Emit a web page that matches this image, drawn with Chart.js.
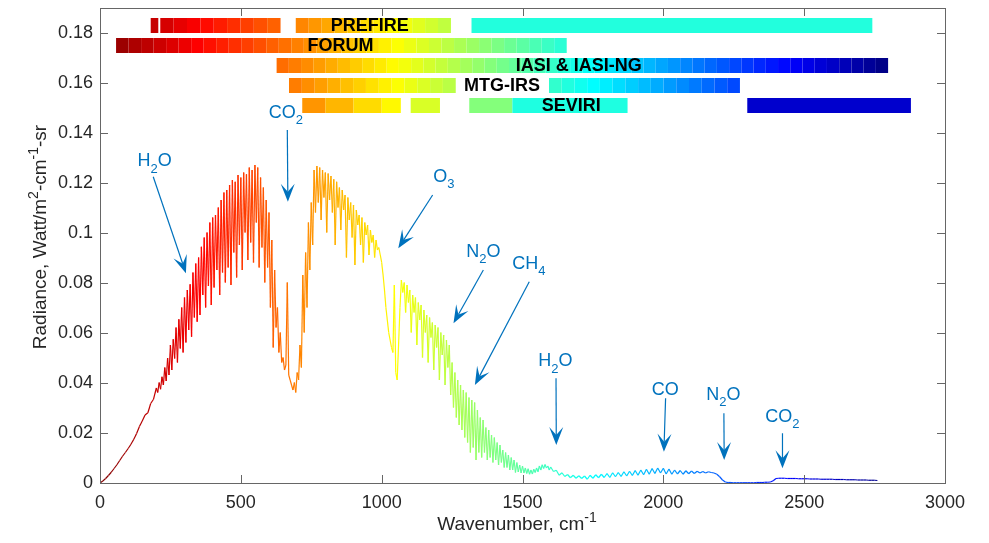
<!DOCTYPE html>
<html lang="en">
<head>
	<meta charset="utf-8">
	<title>Radiance spectrum</title>
	<style>
body {
	margin: 0;
	background: #fff;
}
#chartWrapper {
	width: 989px;
	height: 543px;
}
	</style>
</head>
<body>

<div id="chartWrapper">
  <canvas id="myChart" width="989" height="543"></canvas>
</div>

<script src="https://cdn.jsdelivr.net/npm/chart.js"></script>
<script>
// spectrum, in three pieces with their own sampling
// 0 - 190 cm-1, every 10 cm-1
const lowStart = 0, lowStep = 10;
const radianceLow = [
	0, 0.0008, 0.0018, 0.003, 0.0043, 0.0058, 0.0073, 0.009, 0.0107, 0.0122,
	0.0138, 0.0155, 0.0175, 0.0198, 0.0226, 0.0248, 0.0272, 0.0281, 0.0318, 0.0335
];
// 200 - 1595 cm-1, every 5 cm-1
const bandStart = 200, bandStep = 5;
const radianceBand = [
	0.0380, 0.0362, 0.0402, 0.0375, 0.0425, 0.0392, 0.0462, 0.0408, 0.0500, 0.0432,
	0.0552, 0.0452, 0.0575, 0.0498, 0.0622, 0.0482, 0.0655, 0.0538, 0.0702, 0.0522,
	0.0742, 0.0562, 0.0772, 0.0612, 0.0795, 0.0585, 0.0842, 0.0662, 0.0878, 0.0645,
	0.0902, 0.0672, 0.0945, 0.0752, 0.0982, 0.0702, 0.1002, 0.0788, 0.1042, 0.0712,
	0.1062, 0.0782, 0.1072, 0.0852, 0.1102, 0.0752, 0.1132, 0.0842, 0.1162, 0.0802,
	0.1172, 0.0862, 0.1192, 0.0792, 0.1212, 0.0922, 0.1205, 0.0822, 0.1232, 0.0952,
	0.1222, 0.0852, 0.1242, 0.1002, 0.1235, 0.0892, 0.1262, 0.0962, 0.1252, 0.0882,
	0.1272, 0.1042, 0.1262, 0.0862, 0.1222, 0.0942, 0.1182, 0.0802, 0.1132, 0.0862,
	0.1082, 0.0702, 0.0972, 0.0542, 0.0852, 0.0622, 0.0702, 0.0522, 0.0602, 0.0482,
	0.0502, 0.0452, 0.0472, 0.0802, 0.0432, 0.0412, 0.0392, 0.0372, 0.0402, 0.0362,
	0.0442, 0.0412, 0.0552, 0.0462, 0.0832, 0.0602, 0.0922, 0.0702, 0.1042, 0.0852,
	0.1122, 0.0952, 0.1252, 0.1082, 0.1268, 0.1122, 0.1262, 0.1052, 0.1252, 0.1142,
	0.1242, 0.1002, 0.1238, 0.1132, 0.1228, 0.1082, 0.1215, 0.0952, 0.1205, 0.1102,
	0.1182, 0.1012, 0.1172, 0.1092, 0.1152, 0.0902, 0.1142, 0.1052, 0.1122, 0.0982,
	0.1112, 0.0872, 0.1092, 0.1032, 0.1072, 0.0952, 0.1062, 0.0882, 0.1042, 0.0992,
	0.1032, 0.0912, 0.1012, 0.0962, 0.0992, 0.0902, 0.0972, 0.0932, 0.0942, 0.0912,
	0.0882, 0.0832, 0.0772, 0.0702, 0.0652, 0.0602, 0.0572, 0.0542, 0.0522, 0.0792,
	0.0442, 0.0412, 0.0552, 0.0702, 0.0812, 0.0762, 0.0802, 0.0682, 0.0792, 0.0722,
	0.0772, 0.0602, 0.0752, 0.0682, 0.0742, 0.0552, 0.0722, 0.0652, 0.0712, 0.0502,
	0.0692, 0.0602, 0.0672, 0.0482, 0.0662, 0.0582, 0.0642, 0.0452, 0.0632, 0.0542,
	0.0622, 0.0412, 0.0602, 0.0512, 0.0592, 0.0392, 0.0572, 0.0462, 0.0552, 0.0352,
	0.0482, 0.0302, 0.0442, 0.0262, 0.0412, 0.0232, 0.0392, 0.0212, 0.0372, 0.0182,
	0.0362, 0.0162, 0.0342, 0.0122, 0.0332, 0.0142, 0.0322, 0.0092, 0.0292, 0.0122,
	0.0262, 0.0102, 0.0252, 0.0122, 0.0222, 0.0092, 0.0212, 0.0102, 0.0192, 0.0082,
	0.0182, 0.0092, 0.0162, 0.0072, 0.0152, 0.0082, 0.0132, 0.0062, 0.0122, 0.0062,
	0.0112, 0.0052, 0.0102, 0.0052, 0.0092, 0.0042, 0.0082, 0.0044, 0.0072, 0.0040,
	0.0068, 0.0040, 0.0060, 0.0038, 0.0057, 0.0035, 0.0052, 0.0036, 0.0055, 0.0042,
	0.0060, 0.0045, 0.0068, 0.0052, 0.0073, 0.0058, 0.0074, 0.0060, 0.0068, 0.0052
];
// 1600 - 2760 cm-1, every 10 cm-1
const highStart = 1600, highStep = 10;
const radianceHigh = [
	0.0064, 0.0046, 0.0051, 0.0031, 0.0041, 0.0026, 0.0034, 0.0021, 0.0031, 0.0019,
	0.0029, 0.0018, 0.0028, 0.0015, 0.0031, 0.0019, 0.0033, 0.0021, 0.0035, 0.0022,
	0.0038, 0.0022, 0.0041, 0.0025, 0.0042, 0.0026, 0.0045, 0.0028, 0.0047, 0.0030,
	0.0050, 0.0031, 0.0052, 0.0033, 0.0055, 0.0035, 0.0058, 0.0038, 0.0060, 0.0040,
	0.0059, 0.0036, 0.0056, 0.0035, 0.0052, 0.0036, 0.0050, 0.0035, 0.0049, 0.0037,
	0.0048, 0.0038, 0.0047, 0.0040, 0.0046, 0.0040, 0.0045, 0.0042, 0.0040, 0.0035,
	0.0025, 0.0012, 0.0004, 0.0002, 0.0002, 0.0001, 0.0001, 0.0001, 0.0001, 0.0001,
	0.0001, 0.0001, 0.0001, 0.0002, 0.0002, 0.0002, 0.0003, 0.0003, 0.0004, 0.0009,
	0.0018, 0.0019, 0.0019, 0.0019, 0.0018, 0.0018, 0.0018, 0.0018, 0.0017, 0.0017,
	0.0017, 0.0017, 0.0016, 0.0016, 0.0016, 0.0016, 0.0015, 0.0015, 0.0015, 0.0015,
	0.0015, 0.0014, 0.0014, 0.0014, 0.0014, 0.0013, 0.0013, 0.0013, 0.0013, 0.0012,
	0.0012, 0.0012, 0.0012, 0.0011, 0.0011, 0.0011, 0.0010
];

const xTicks = [0, 500, 1000, 1500, 2000, 2500, 3000];
const yTicks = [0, 0.02, 0.04, 0.06, 0.08, 0.1, 0.12, 0.14, 0.16, 0.18];

// instrument coverage, cm-1
const instruments = ['PREFIRE', 'FORUM', 'IASI & IASI-NG', 'MTG-IRS', 'SEVIRI'];
const instrumentRow = [0.183, 0.175, 0.167, 0.159, 0.151];
const prefireBands = [[180, 207], [214, 641], [695, 1246], [1319, 2742]];
const forumBands = [[57, 1657]];
const iasiBands = [[627, 2798]];
const irsBands = [[671, 1263], [1594, 2272]];
const seviriBands = [[718, 800], [800, 900], [900, 1000], [1000, 1068], [1103, 1207], [1311, 1464], [1464, 1873], [2298, 2879]];
const instrumentLabelAt = [958, 854, 1700, 1427, 1673];

// gas labels: text spot and arrow (from -> tip), in axis units
const gases = ['H_2O', 'CO_2', 'O_3', 'N_2O', 'CH_4', 'H_2O', 'CO', 'N_2O', 'CO_2'];
const gasText = [[194, 0.1293], [660, 0.1488], [1221, 0.1232], [1361, 0.0932], [1523, 0.0884], [1617, 0.0493], [2007, 0.0379], [2213, 0.036], [2423, 0.0272]];
const gasArrow = [
	[189, 0.1225, 305, 0.0839], [665, 0.1412, 667, 0.1125], [1181, 0.1152, 1059, 0.0939],
	[1361, 0.0852, 1255, 0.0639], [1524, 0.0805, 1331, 0.0392], [1619, 0.0419, 1620, 0.0152],
	[2008, 0.0339, 2002, 0.0125], [2215, 0.0279, 2216, 0.0092], [2423, 0.0199, 2423, 0.0059]
];

const FONT = '"Liberation Sans", Arial, Helvetica, sans-serif';
const BLUE = '#0072BD';
const INK = '#262626';

// reversed jet over 0..2800 cm-1
function jet(wn) {
	let t = Math.min(1, Math.max(0, 1 - wn / 2800));
	const c = k => Math.round(255 * Math.min(1, Math.max(0, 1.5 - Math.abs(4 * t - k))));
	return `rgb(${c(3)},${c(2)},${c(1)})`;
}

function bandLine(bands, row, blockWidth, fixed) {
	const pts = [];
	let prevEnd = null;
	bands.forEach((b, i) => {
		const [start, end] = b;
		if (prevEnd !== null && start !== prevEnd) pts.push({x: (start + prevEnd) / 2, y: null});
		const n = Math.max(1, Math.round((end - start) / blockWidth));
		const first = (prevEnd !== null && start === prevEnd) ? 1 : 0;
		for (let k = first; k <= n; k++) {
			pts.push({x: start + (end - start) * k / n, y: row, c: fixed[i]});
		}
		prevEnd = end;
	});
	return {
		data: pts,
		showLine: true,
		spanGaps: false,
		borderWidth: 15,
		borderCapStyle: 'butt',
		borderJoinStyle: 'miter',
		pointRadius: 0,
		borderColor: '#000',
		segment: {
			borderColor: ctx => {
				const p = pts[ctx.p1DataIndex];
				return p.c || jet((ctx.p0.parsed.x + ctx.p1.parsed.x) / 2);
			}
		}
	};
}

function richParts(str) {
	const parts = [];
	let buf = '', i = 0;
	while (i < str.length) {
		const ch = str[i];
		if (ch === '^' || ch === '_') {
			if (buf) parts.push([buf, 0]);
			buf = '';
			let t;
			if (str[i + 1] === '{') {
				const j = str.indexOf('}', i);
				t = str.slice(i + 2, j);
				i = j + 1;
			} else {
				t = str[i + 1];
				i += 2;
			}
			parts.push([t, ch === '^' ? 1 : -1]);
		} else {
			buf += ch;
			i++;
		}
	}
	if (buf) parts.push([buf, 0]);
	return parts;
}

// x is the centre, y the baseline
function drawRich(ctx, str, x, y, size, color) {
	const parts = richParts(str);
	const small = Math.round(size * 0.72);
	const fontOf = s => (s ? small : size) + 'px ' + FONT;
	let w = 0;
	parts.forEach(p => { ctx.font = fontOf(p[1]); w += ctx.measureText(p[0]).width; });
	let cx = x - w / 2;
	ctx.textAlign = 'left';
	ctx.textBaseline = 'alphabetic';
	ctx.fillStyle = color;
	parts.forEach(p => {
		ctx.font = fontOf(p[1]);
		const dy = p[1] === 1 ? -size * 0.42 : (p[1] === -1 ? size * 0.38 : 0);
		ctx.fillText(p[0], cx, y + dy);
		cx += ctx.measureText(p[0]).width;
	});
}

function arrow(ctx, x0, y0, x1, y1) {
	const a = Math.atan2(y1 - y0, x1 - x0);
	const ux = Math.cos(a), uy = Math.sin(a);
	const L = 18, W = 7, N = 10;
	ctx.beginPath();
	ctx.moveTo(x0, y0);
	ctx.lineTo(x1 - ux * N, y1 - uy * N);
	ctx.stroke();
	ctx.beginPath();
	ctx.moveTo(x1, y1);
	ctx.lineTo(x1 - ux * L - uy * W, y1 - uy * L + ux * W);
	ctx.lineTo(x1 - ux * N, y1 - uy * N);
	ctx.lineTo(x1 - ux * L + uy * W, y1 - uy * L - ux * W);
	ctx.closePath();
	ctx.fill();
}

const decorations = {
	id: 'decorations',
	afterDatasetsDraw(chart) {
		const {ctx, scales: {x, y}} = chart;
		ctx.save();
		ctx.font = 'bold 18px ' + FONT;
		ctx.fillStyle = '#000';
		ctx.textAlign = 'center';
		ctx.textBaseline = 'middle';
		instruments.forEach((name, i) => {
			ctx.fillText(name, x.getPixelForValue(instrumentLabelAt[i]), y.getPixelForValue(instrumentRow[i]) + 1);
		});

		ctx.strokeStyle = BLUE;
		ctx.fillStyle = BLUE;
		ctx.lineWidth = 1.2;
		gasArrow.forEach(a => {
			arrow(ctx, x.getPixelForValue(a[0]), y.getPixelForValue(a[1]), x.getPixelForValue(a[2]), y.getPixelForValue(a[3]));
		});
		gases.forEach((g, i) => {
			drawRich(ctx, g, x.getPixelForValue(gasText[i][0]), y.getPixelForValue(gasText[i][1]) + 6.5, 18, BLUE);
		});
		ctx.restore();
	},
	afterDraw(chart) {
		const {ctx, chartArea: a, scales: {x, y}} = chart;
		ctx.save();
		ctx.strokeStyle = '#666';
		ctx.lineWidth = 1;
		ctx.strokeRect(Math.round(a.left) + 0.5, Math.round(a.top) + 0.5, Math.round(a.right - a.left), Math.round(a.bottom - a.top));
		ctx.beginPath();
		xTicks.forEach(v => {
			const px = Math.round(x.getPixelForValue(v)) + 0.5;
			ctx.moveTo(px, a.bottom); ctx.lineTo(px, a.bottom - 8);
			ctx.moveTo(px, a.top); ctx.lineTo(px, a.top + 8);
		});
		yTicks.forEach(v => {
			const py = Math.round(y.getPixelForValue(v)) + 0.5;
			ctx.moveTo(a.left, py); ctx.lineTo(a.left + 8, py);
			ctx.moveTo(a.right, py); ctx.lineTo(a.right - 8, py);
		});
		ctx.stroke();

		drawRich(ctx, 'Wavenumber, cm^{-1}', 517, 530, 19, INK);
		ctx.translate(46, 237);
		ctx.rotate(-Math.PI / 2);
		drawRich(ctx, 'Radiance, Watt/m^2-cm^{-1}-sr', 0, 0, 19, INK);
		ctx.restore();
	}
};

document.addEventListener('DOMContentLoaded', init, false);

function init() {
	const spectrum = [];
	radianceLow.forEach((v, i) => spectrum.push({x: lowStart + i * lowStep, y: v}));
	radianceBand.forEach((v, i) => spectrum.push({x: bandStart + i * bandStep, y: v}));
	radianceHigh.forEach((v, i) => spectrum.push({x: highStart + i * highStep, y: v}));

	const ctx = document.getElementById('myChart');

	new Chart(ctx, {
		type: 'scatter',
		data: {
			datasets: [
				{
					data: spectrum,
					showLine: true,
					borderWidth: 1.2,
					pointRadius: 0,
					borderColor: '#000',
					segment: {
						borderColor: c => jet((c.p0.parsed.x + c.p1.parsed.x) / 2)
					}
				},
				bandLine(prefireBands, instrumentRow[0], 45, [null, null, null, '#22FFDD']),
				bandLine(forumBands, instrumentRow[1], 44.4, []),
				bandLine(iasiBands, instrumentRow[2], 43.8, []),
				bandLine(irsBands, instrumentRow[3], 44, []),
				bandLine(seviriBands, instrumentRow[4], 10000, [])
			]
		},
		options: {
			responsive: false,
			animation: false,
			events: [],
			layout: {padding: {top: 8, right: 44, left: 0, bottom: 0}},
			plugins: {
				legend: {display: false},
				tooltip: {enabled: false}
			},
			scales: {
				x: {
					type: 'linear',
					min: 0,
					max: 3000,
					grid: {display: false, drawTicks: false},
					border: {display: false},
					afterBuildTicks: s => { s.ticks = xTicks.map(v => ({value: v})); },
					afterFit: s => { s.height = 60; s.paddingLeft = 0; s.paddingRight = 0; },
					ticks: {
						padding: 9,
						color: INK,
						autoSkip: false,
						maxRotation: 0,
						font: {family: FONT, size: 18},
						callback: v => String(v)
					}
				},
				y: {
					type: 'linear',
					min: 0,
					max: 0.19,
					grid: {display: false, drawTicks: false},
					border: {display: false},
					afterBuildTicks: s => { s.ticks = yTicks.map(v => ({value: v})); },
					afterFit: s => { s.width = 100; s.paddingTop = 0; s.paddingBottom = 0; },
					ticks: {
						padding: 7,
						color: INK,
						autoSkip: false,
						font: {family: FONT, size: 18},
						callback: v => String(v)
					}
				}
			}
		},
		plugins: [decorations]
	});
}
</script>
</body>
</html>
